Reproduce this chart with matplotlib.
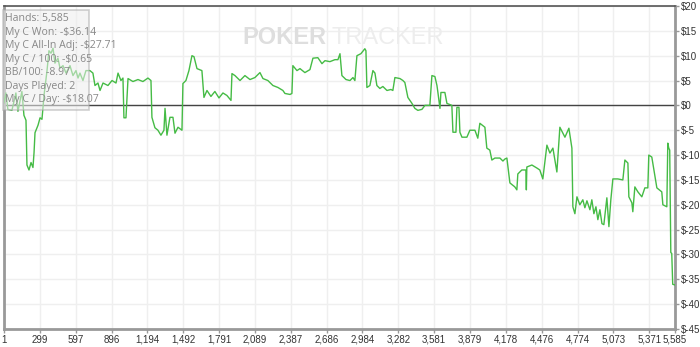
import matplotlib
matplotlib.use("Agg")
import matplotlib.pyplot as plt

# hands played vs. cumulative winnings ($)
hands = [1, 17, 33, 67, 100, 117, 150, 167, 184, 192, 209, 226, 242, 251, 259, 284, 301, 317, 334, 359,
         375, 392, 409, 425, 450, 467, 492, 517, 550, 575, 600, 617, 633, 658, 683, 716, 741, 758, 783, 800,
         825, 866, 900, 933, 950, 974, 991, 999, 1016, 1033, 1074, 1116, 1157, 1199, 1224, 1232, 1257, 1282,
         1307, 1332, 1341, 1357, 1382, 1407, 1424, 1449, 1482, 1490, 1515, 1540, 1565, 1582, 1607, 1648, 1665,
         1690, 1723, 1756, 1790, 1823, 1856, 1890, 1898, 1923, 1965, 2006, 2048, 2089, 2131, 2156, 2197, 2239,
         2281, 2322, 2339, 2381, 2397, 2405, 2439, 2464, 2505, 2547, 2572, 2613, 2647, 2672, 2713, 2755, 2780,
         2797, 2813, 2847, 2880, 2905, 2921, 2938, 2971, 3004, 3013, 3021, 3046, 3071, 3088, 3104, 3129, 3154,
         3188, 3221, 3237, 3254, 3296, 3321, 3337, 3362, 3396, 3420, 3445, 3479, 3504, 3545, 3562, 3587, 3604,
         3612, 3629, 3637, 3670, 3687, 3728, 3737, 3762, 3770, 3787, 3795, 3812, 3853, 3878, 3920, 3944, 3961,
         4003, 4019, 4044, 4061, 4086, 4128, 4153, 4169, 4186, 4211, 4252, 4269, 4277, 4310, 4344, 4348, 4352,
         4394, 4435, 4460, 4485, 4519, 4544, 4569, 4602, 4627, 4669, 4702, 4727, 4735, 4752, 4769, 4793, 4818,
         4835, 4852, 4877, 4893, 4910, 4927, 4943, 4960, 4977, 4993, 5018, 5035, 5051, 5068, 5109, 5151, 5168,
         5193, 5201, 5226, 5234, 5251, 5276, 5309, 5334, 5359, 5367, 5392, 5434, 5475, 5484, 5517, 5525, 5533,
         5541, 5550, 5558, 5566, 5585]
won = [0.5, 2.5, -0.8, -1.0, 2.5, -1.2, 2.8, -2.0, -3.0, -12.0, -13.0, -11.5, -12.5, -9.5, -5.5, -4.0, -2.5, -2.8, 2.0, 7.0,
       11.0, 10.5, 11.5, 8.5, 9.5, 7.5, 8.0, 6.5, 8.0, 6.0, 7.0, 5.5, 6.5, 5.0, 7.0, 7.0, 6.5, 4.0, 4.5, 3.0,
       4.5, 4.0, 5.0, 4.5, 6.5, 5.0, 5.5, -2.5, -2.5, 5.4, 4.8, 5.2, 4.8, 5.5, 5.0, -2.4, -4.5, -5.0,
       -6.0, -5.0, -0.6, -6.0, -2.4, -2.4, -5.6, -4.4, -5.0, 4.4, 5.0, 7.0, 10.0, 9.8, 7.4, 7.0, 1.6,
       3.0, 1.8, 2.8, 1.5, 2.5, 2.0, 1.0, 6.4, 6.0, 5.0, 6.0, 5.2, 5.6, 6.6, 5.4, 5.0, 4.0,
       3.6, 3.0, 2.4, 2.2, 2.4, 8.0, 7.0, 7.4, 6.6, 7.2, 9.5, 9.6, 8.4, 9.0, 8.8, 9.2, 9.2,
       10.4, 6.0, 5.2, 5.0, 5.6, 5.0, 10.0, 10.4, 11.4, 11.0, 3.6, 4.0, 7.0, 6.5, 4.0, 3.4, 3.8,
       3.0, 3.2, 3.0, 5.6, 5.4, 5.0, 4.6, 1.6, 0.4, -0.6, -1.0, -0.8, 0.0, 0.0, 6.0, 5.8, 4.0,
       2.6, -0.6, 2.6, 2.6, 0.4, 0.0, -5.4, -5.4, -0.4, -0.4, -5.4, -6.4, -6.4, -5.0, -5.0, -6.6, -3.6,
       -4.4, -8.6, -9.0, -11.0, -10.6, -10.6, -11.2, -10.8, -10.6, -15.6, -16.4, -17.0, -13.8, -13.0, -13.0, -17.0, -12.4,
       -12.0, -12.6, -13.0, -14.8, -8.0, -9.6, -8.6, -13.4, -4.4, -6.4, -4.6, -8.6, -20.4, -21.8, -18.4, -20.0, -19.0,
       -20.6, -19.2, -21.0, -19.0, -21.8, -20.4, -23.0, -21.0, -23.8, -24.0, -18.6, -24.4, -19.0, -14.8, -14.8, -15.0, -11.0,
       -11.6, -18.4, -19.6, -21.4, -16.4, -17.4, -18.4, -16.6, -16.6, -10.0, -10.4, -16.6, -17.4, -20.0, -20.4, -7.6, -8.6,
       -9.0, -29.6, -29.8, -36.0, -36.14]

xticks = [1, 299, 597, 896, 1194, 1492, 1791, 2089, 2387, 2686, 2984, 3282, 3581, 3879, 4178, 4476, 4774, 5073, 5371, 5585]
yticks = list(range(-45, 25, 5))

stats = ["Hands: 5,585", "My C Won: -$36.14", "My C All-In Adj: -$27.71", "My C / 100: -$0.65",
         "BB/100: -8.97", "Days Played: 2", "My C / Day: -$18.07"]

plt.rcParams['font.family'] = ['Liberation Sans', 'DejaVu Sans']

fig = plt.figure(figsize=(7, 3.47), dpi=100)
ax = fig.add_axes([4/700, 1-329/347, 671/700, 323/347])

ax.set_xlim(1, 5585)
ax.set_ylim(-45, 20)
ax.set_xticks(xticks)
ax.set_xticklabels([f"{t:,}" for t in xticks])
ax.set_yticks(yticks)
ax.set_yticklabels([f"${t}" for t in yticks])
ax.yaxis.tick_right()
ax.tick_params(axis='both', labelsize=7, length=3, width=1, pad=1,
               colors='#999999', labelcolor='#333333')

ax.grid(True, color='#efefef', lw=1)
ax.set_axisbelow(True)
for side in ['left', 'bottom', 'right']:
    ax.spines[side].set_color('#999999')
    ax.spines[side].set_linewidth(2)
ax.spines['top'].set_color('#555555')
ax.spines['top'].set_linewidth(1.2)

ax.axhline(0, color='#444444', lw=1, zorder=2)
ax.plot(hands, won, color='#45bb45', lw=1, zorder=3)

# watermark
fig.text(242/700, 1-38/347, "POKER", fontsize=17, fontweight='bold',
         color='#dedede', ha='left', va='center', zorder=1)
fig.text(331/700, 1-38/347, "TRACKER", fontsize=17,
         color='#ededed', ha='left', va='center', zorder=1)

# stats box
box = plt.Rectangle((3/700, 1-110/347), 86/700, 100/347, transform=fig.transFigure,
                    facecolor='#eeeeee', alpha=0.55, edgecolor='#aaaaaa', lw=1.2, zorder=5)
fig.patches.append(box)
for i, s in enumerate(stats):
    fig.text(5/700, 1-(19+13.4*i)/347, s, fontsize=7.6, color='#888888',
             family=['Open Sans', 'DejaVu Sans'], ha='left', va='center', zorder=6)

fig.savefig("out.png", dpi=100)
